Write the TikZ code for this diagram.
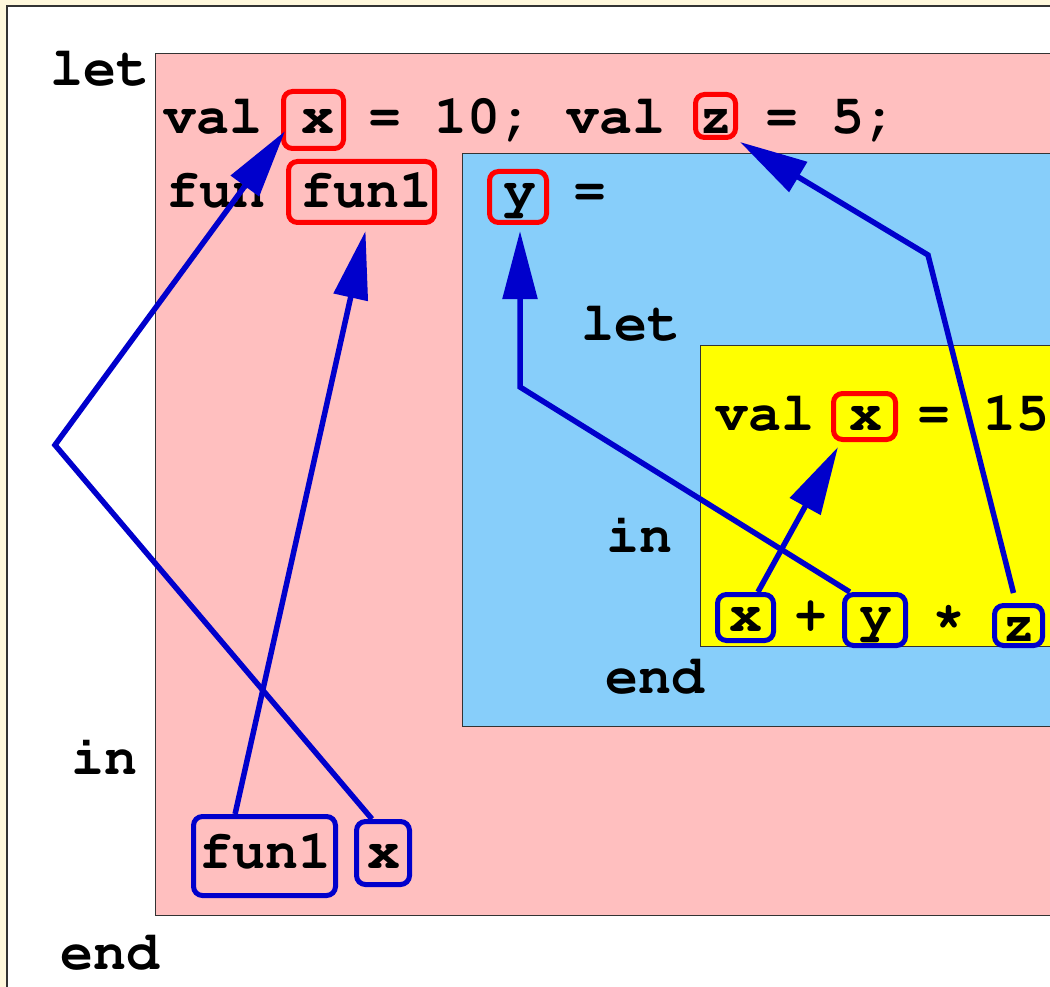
\documentclass[tikz,border=0pt]{standalone}
\usepackage[T1]{fontenc}
\usepackage{courier}
\usetikzlibrary{arrows.meta,calc}
\definecolor{cream}{HTML}{FFF8DC}
\definecolor{pinkbg}{HTML}{FFBFBF}
\definecolor{bluebg}{HTML}{87CEFA}
\definecolor{yellowbg}{HTML}{FFFF00}
\definecolor{linkblue}{HTML}{0000CC}
\definecolor{defred}{HTML}{FF0000}
\begin{document}
\begin{tikzpicture}[x=1pt,y=-1pt,
  code/.style={font=\ttfamily\bfseries\fontsize{55}{55}\selectfont, inner sep=0pt, anchor=base west},
  codec/.style={font=\ttfamily\bfseries\fontsize{55}{55}\selectfont, inner sep=0pt, anchor=base},
  defbox/.style={draw=defred, line width=5pt, rounded corners=9pt, inner sep=0pt},
  usebox/.style={draw=linkblue, line width=5pt, rounded corners=9pt, inner sep=0pt},
  region/.style={draw=black!80, line width=1pt},
  link/.style={draw=linkblue, line width=5.5pt, line join=miter, -{Triangle[length=68pt,width=34pt]}}]
\useasboundingbox (0,0) rectangle (1050,987);
\clip (0,0) rectangle (1050,987);
% background
\fill[cream] (0,0) rectangle (1050,987);
\filldraw[fill=white, draw=black!80, line width=2pt] (7,6) rectangle (1100,1040);
% scopes
\filldraw[region, fill=pinkbg] (155,54) rectangle (1100,915);
\filldraw[region, fill=bluebg] (462,154) rectangle (1100,726);
\filldraw[region, fill=yellowbg] (700,345) rectangle (1100,646);

% binding boxes (red)
\node[defbox, minimum width=60pt, minimum height=57pt] (rx) at (313.5,120) {};
\node[defbox, minimum width=40pt, minimum height=43pt] (rz) at (715.5,116) {};
\node[defbox, minimum width=146pt, minimum height=61pt] (rf) at (361.5,192) {};
\node[defbox, minimum width=57pt, minimum height=51pt] (ry) at (518,197) {};
\node[defbox, minimum width=62pt, minimum height=46pt] (rx2) at (864.5,416.5) {};
% use boxes (blue)
\node[usebox, minimum width=56pt, minimum height=46pt] (ux) at (745.5,617.5) {};
\node[usebox, minimum width=61pt, minimum height=51pt] (uy) at (875,620) {};
\node[usebox, minimum width=48pt, minimum height=40pt] (uz) at (1018.5,625.5) {};
\node[usebox, minimum width=142pt, minimum height=79pt] (uf) at (264.5,856) {};
\node[usebox, minimum width=53pt, minimum height=63pt] (ux2) at (383,853) {};

% texts
\node[code] (tlet1) at (50,86) {let};
\node[code] (tval1) at (163,134) {val};
\node[codec] (tx1) at (318,134) {x};
\node[code] (teq1) at (368,134) {= 10; val};
\node[codec] (tz1) at (716,134) {z};
\node[code] (teq2) at (765,134) {= 5;};
\node[code] (tfun) at (166,208) {fun};
\node[codec] (tfun1) at (366,208) {fun1};
\node[codec] (ty1) at (520,208) {y};
\node[code] (teq3) at (573,208) {=};
\node[code] (tlet2) at (581,340) {let};
\node[code] (tval2) at (715,430) {val};
\node[codec] (tx2) at (866,430) {x};
\node[code] (teq4) at (917,430) {= 15};
\node[code] (tin2) at (606,552) {in};
\node[codec] (tx3) at (746,631) {x};
\node[codec] (tplus) at (811,631) {+};
\node[codec] (ty2) at (876,631) {y};
\node[codec] (tstar) at (949,631) {*};
\node[codec] (tz2) at (1019,641) {z};
\node[code] (tend2) at (605,693) {end};
\node[code] (tin1) at (71,774) {in};
\node[codec] (tfun2) at (265,868) {fun1};
\node[codec] (tx4) at (384,868) {x};
\node[code] (tend1) at (60,969) {end};

% links
\coordinate (b1) at (55,445);
\coordinate (b3) at (520,387);
\coordinate (b5) at (928,255);
\draw[link] (ux2.108) -- (b1) -- ($(rx.199)+(4,0)$);
\draw[link] (uf.125) -- ($(rf.south)+(4,6)$);
\draw[link] (uy.132) -- (b3) -- ($(ry.south)+(2,6)$);
\draw[link] (ux.64) -- ($(rx2.south west)+(7,5)$);
\draw[link] ($(uz.north)+(-5,-10)$) -- (b5) -- ($(rz.south east)+(2,2)$);
\end{tikzpicture}
\end{document}
